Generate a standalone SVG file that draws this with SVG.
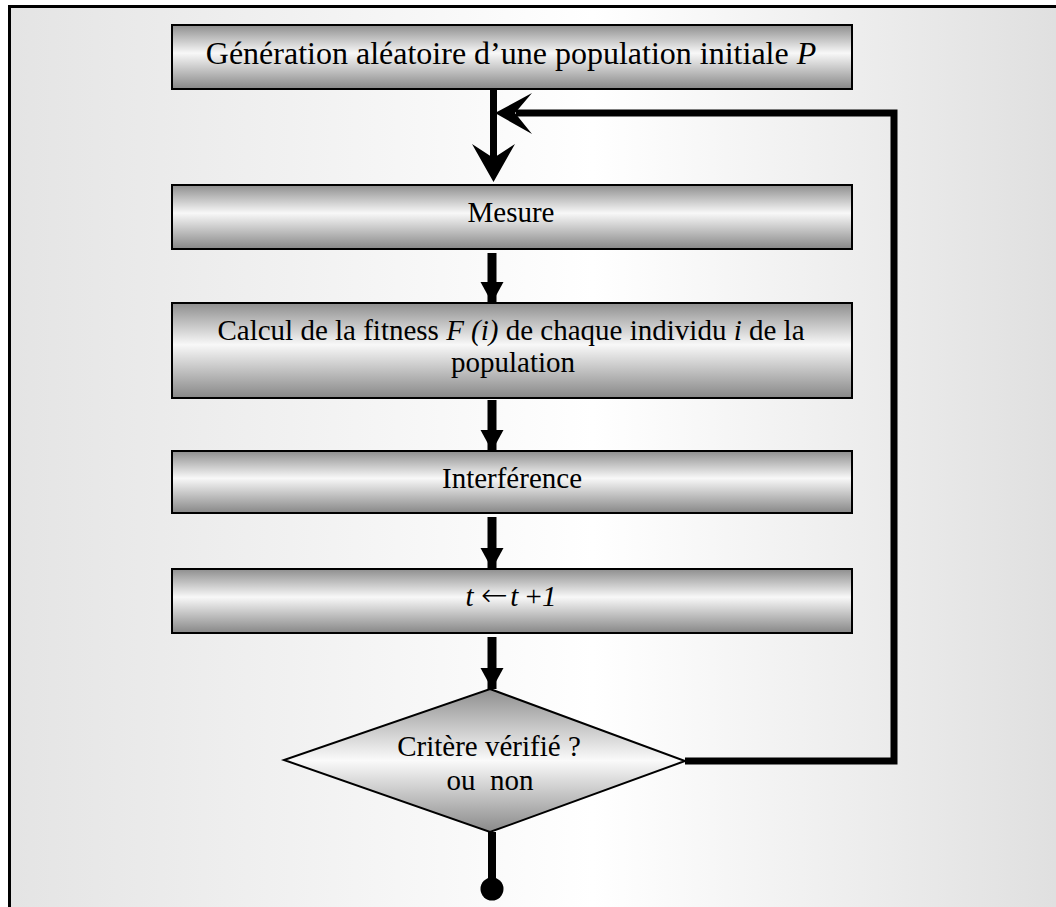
<svg xmlns="http://www.w3.org/2000/svg" width="1056" height="907" viewBox="0 0 1056 907">
  <defs>
    <linearGradient id="bg" x1="0" y1="0" x2="1" y2="0">
      <stop offset="0" stop-color="#e4e4e4"/>
      <stop offset="0.55" stop-color="#ffffff"/>
      <stop offset="1" stop-color="#dfdfdf"/>
    </linearGradient>
    <linearGradient id="bar" x1="0" y1="0" x2="0" y2="1">
      <stop offset="0" stop-color="#8e8e8e"/>
      <stop offset="0.44" stop-color="#f8f8f8"/>
      <stop offset="1" stop-color="#878787"/>
    </linearGradient>
    <linearGradient id="dia" x1="0" y1="0" x2="0" y2="1">
      <stop offset="0" stop-color="#8e8e8e"/>
      <stop offset="0.5" stop-color="#fafafa"/>
      <stop offset="1" stop-color="#8a8a8a"/>
    </linearGradient>
    <marker id="tri" markerUnits="userSpaceOnUse" markerWidth="24" markerHeight="24" refX="21" refY="11.5" orient="auto">
      <path d="M0,0 L21,11.5 L0,23 Z" fill="#000"/>
    </marker>
  </defs>
  <style>
    .box { fill: url(#bar); stroke: #000; stroke-width: 2; }
    .lbl { font-family: "Liberation Serif", "Times New Roman", serif; font-size: 29px; fill: #000; text-anchor: middle; }
    .big { font-size: 32px; }
    .it { font-style: italic; }
    .arw { font-family: "DejaVu Sans ExtraLight", "DejaVu Sans", sans-serif; font-weight: 200; font-size: 32px; }
    .sp { font-size: 10px; }
    .flow { fill: none; stroke: #000; stroke-width: 9; }
    .loop { fill: none; stroke: #000; stroke-width: 7; stroke-linejoin: miter; }
  </style>

  <!-- page frame -->
  <rect x="9.5" y="6.5" width="1060" height="910" fill="url(#bg)" stroke="#000" stroke-width="3"/>

  <!-- connectors -->
  <g id="connectors">
    <!-- entry from the start box, with the loop joining it -->
    <line x1="493.5" y1="89" x2="493.5" y2="160" class="loop"/>
    <path d="M493.5,182 L472,144 L493.5,158 L515,144 Z" fill="#000"/>
    <polyline points="685,761 894,761 894,113 516,113" class="loop"/>
    <path d="M495,113 L532,93 L515,113 L532,134 Z" fill="#000"/>
    <!-- straight flow arrows -->
    <line x1="492" y1="253" x2="492" y2="303" class="flow" marker-end="url(#tri)"/>
    <line x1="492" y1="400" x2="492" y2="451" class="flow" marker-end="url(#tri)"/>
    <line x1="492" y1="517" x2="492" y2="569" class="flow" marker-end="url(#tri)"/>
    <line x1="492" y1="637" x2="492" y2="689" class="flow" marker-end="url(#tri)"/>
    <!-- exit -->
    <line x1="492" y1="832" x2="492" y2="885" stroke="#000" stroke-width="8"/>
    <circle cx="492" cy="889" r="11.5" fill="#000"/>
  </g>

  <g id="init">
    <rect class="box" x="172" y="25" width="680" height="64"/>
    <text class="lbl big" x="511" y="64">Génération aléatoire d’une population initiale <tspan class="it">P</tspan></text>
  </g>

  <g id="mesure">
    <rect class="box" x="172" y="185" width="680" height="64"/>
    <text class="lbl" x="511" y="222">Mesure</text>
  </g>

  <g id="fitness">
    <rect class="box" x="172" y="303" width="680" height="95"/>
    <text class="lbl" x="511" y="340">Calcul de la fitness <tspan class="it">F (i)</tspan> de chaque individu <tspan class="it">i</tspan> de la</text>
    <text class="lbl" x="513" y="372">population</text>
  </g>

  <g id="interference">
    <rect class="box" x="172" y="451" width="680" height="62"/>
    <text class="lbl" x="512" y="488">Interférence</text>
  </g>

  <g id="increment">
    <rect class="box" x="172" y="569" width="680" height="64"/>
    <text class="lbl" x="511" y="606"><tspan class="it">t</tspan> <tspan class="arw">←</tspan><tspan class="sp"> </tspan><tspan class="it">t</tspan> +<tspan class="it">1</tspan></text>
  </g>

  <g id="criterion">
    <polygon points="490,689 685,761 490,832 284,760" fill="url(#dia)" stroke="#000" stroke-width="2"/>
    <text class="lbl" x="489" y="756">Critère vérifié ?</text>
    <text class="lbl" x="490" y="790" xml:space="preserve">ou  non</text>
  </g>
</svg>
